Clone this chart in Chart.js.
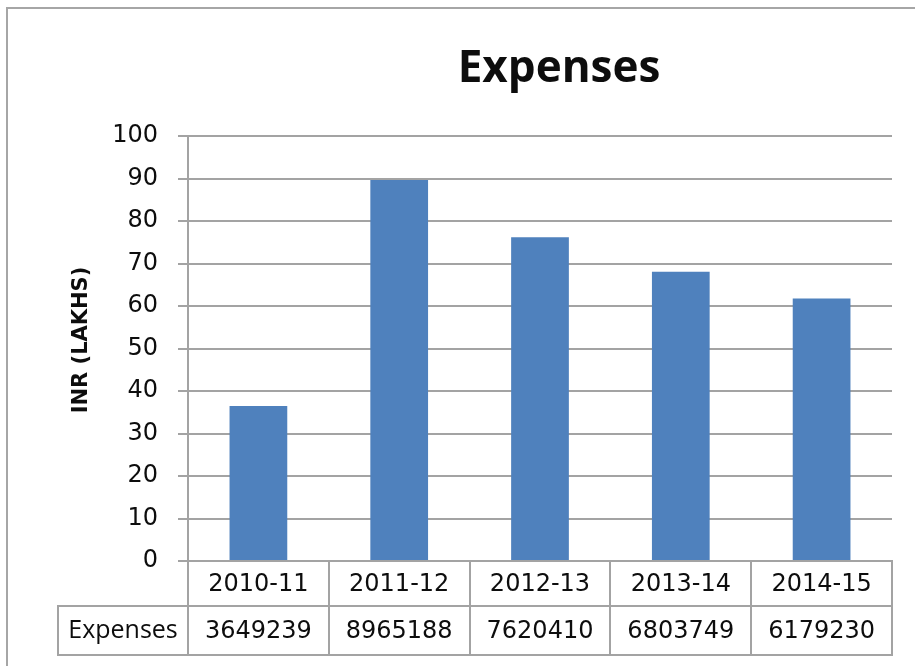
<!DOCTYPE html>
<html>
<head>
<meta charset="utf-8">
<title>Expenses</title>
<script src="https://cdn.jsdelivr.net/npm/chart.js@4.4.1/dist/chart.umd.min.js"></script>
<style>
  body { margin: 0; background: #fff; }
  #wrap { width: 915px; height: 666px; }
</style>
</head>
<body>
<div id="wrap"><canvas id="expChart" width="915" height="666"></canvas></div>
<script>
const years = ["2010-11", "2011-12", "2012-13", "2013-14", "2014-15"];
const expensesInr = [3649239, 8965188, 7620410, 6803749, 6179230];
const expensesLakhs = [36.49, 89.65, 76.20, 68.04, 61.79];
const rowLabel = "Expenses";
const yAxisTitle = "INR (LAKHS)";

const lineGray = "#a3a3a3";
const textColor = "#0d0d0d";
const tahomaLike = "'DejaVu Sans', Verdana, sans-serif";

// frame, titles and the data table under the plot
const tablePlugin = {
  id: "dataTable",
  beforeDraw(chart) {
    const ctx = chart.ctx;
    ctx.save();
    ctx.fillStyle = "#fff";
    ctx.fillRect(0, 0, chart.width, chart.height);
    ctx.strokeStyle = "#a6a6a6";
    ctx.lineWidth = 2;
    ctx.strokeRect(7, 8, chart.width + 10, chart.height + 10);
    ctx.restore();
  },
  afterDraw(chart) {
    const ctx = chart.ctx;
    const x = chart.scales.x;
    const area = chart.chartArea;
    const step = x.getPixelForValue(1) - x.getPixelForValue(0);
    const row1Top = area.bottom;
    const row2Top = area.bottom + 45;
    const row2Bottom = area.bottom + 94;
    const labelLeft = 58;

    ctx.save();
    ctx.strokeStyle = lineGray;
    ctx.lineWidth = 2;
    ctx.beginPath();
    for (let i = 0; i <= years.length; i++) {
      const bx = Math.round(x.getPixelForValue(i) - step / 2);
      ctx.moveTo(bx, row1Top);
      ctx.lineTo(bx, row2Bottom);
    }
    ctx.moveTo(labelLeft, row2Top);
    ctx.lineTo(area.right + 1, row2Top);
    ctx.moveTo(labelLeft, row2Bottom);
    ctx.lineTo(area.right + 1, row2Bottom);
    ctx.moveTo(labelLeft, row2Top - 1);
    ctx.lineTo(labelLeft, row2Bottom + 1);
    ctx.stroke();

    ctx.fillStyle = textColor;
    ctx.textAlign = "center";
    ctx.textBaseline = "middle";
    ctx.font = "24px " + tahomaLike;
    years.forEach((y, i) => {
      const cx = x.getPixelForValue(i);
      ctx.fillText(y, cx, (row1Top + row2Top) / 2 + 1);
      ctx.fillText(String(expensesInr[i]), cx, (row2Top + row2Bottom) / 2 + 1);
    });
    ctx.font = "25px 'Open Sans', sans-serif";
    ctx.fillText(rowLabel, (labelLeft + area.left) / 2, (row2Top + row2Bottom) / 2);

    // axis title, rotated
    ctx.save();
    ctx.translate(82, 340);
    ctx.rotate(-Math.PI / 2);
    ctx.font = "bold 21px " + tahomaLike;
    ctx.fillText(yAxisTitle, 0, 0);
    ctx.restore();

    ctx.font = "bold 44px 'Open Sans', sans-serif";
    ctx.textBaseline = "alphabetic";
    ctx.fillText("Expenses", 559, 82);
    ctx.restore();
  }
};

new Chart(document.getElementById("expChart"), {
  type: "bar",
  data: {
    labels: years,
    datasets: [{
      label: rowLabel,
      data: expensesLakhs,
      backgroundColor: "#4f81bd",
      borderWidth: 0,
      categoryPercentage: 0.41,
      barPercentage: 1
    }]
  },
  options: {
    responsive: false,
    animation: false,
    layout: { padding: { top: 136, right: 23, bottom: 0, left: 0 } },
    plugins: {
      legend: { display: false },
      tooltip: { enabled: false },
      title: { display: false }
    },
    scales: {
      x: {
        afterFit(scale) { scale.height = 105; },
        ticks: { display: false },
        grid: { drawOnChartArea: false, drawTicks: false },
        border: { display: true, color: lineGray, width: 2 }
      },
      y: {
        min: 0,
        max: 100,
        afterFit(scale) { scale.width = 188; },
        ticks: {
          stepSize: 10,
          padding: 20,
          color: textColor,
          font: { family: tahomaLike, size: 24 }
        },
        grid: { color: lineGray, lineWidth: 2, tickLength: 10 },
        border: { display: true, color: lineGray, width: 2 }
      }
    }
  },
  plugins: [tablePlugin]
});
</script>
</body>
</html>
